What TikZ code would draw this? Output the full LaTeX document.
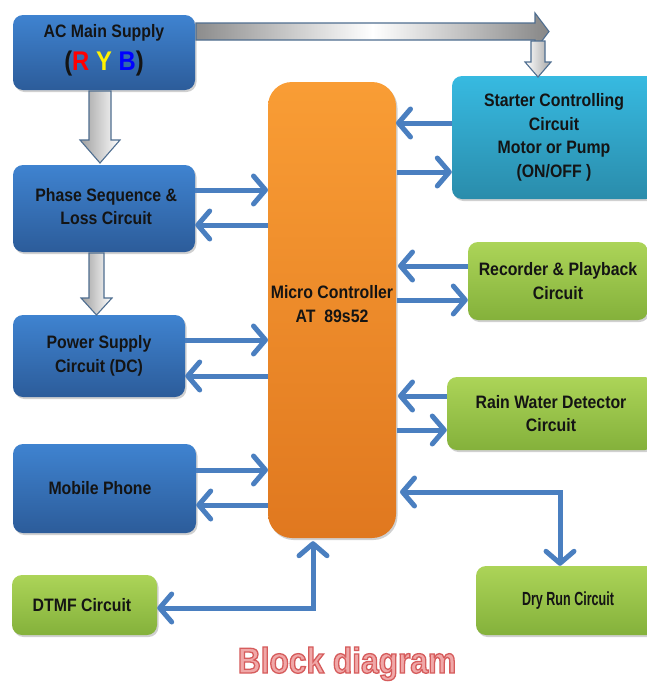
\documentclass[tikz,border=0pt]{standalone}
\usepackage{fontspec}
\setmainfont{Liberation Sans}[FakeStretch=0.88]
\newfontfamily\condfont{Liberation Sans}[FakeStretch=0.66]
\usetikzlibrary{arrows.meta,shadows,calc}
\definecolor{blueT}{HTML}{3F83D0}
\definecolor{blueB}{HTML}{2C5C9A}
\definecolor{orT}{HTML}{F99D35}
\definecolor{orB}{HTML}{E0781F}
\definecolor{cyT}{HTML}{37BAE1}
\definecolor{cyB}{HTML}{2A8CAB}
\definecolor{grT}{HTML}{ACD458}
\definecolor{grB}{HTML}{84B13B}
\definecolor{arrowblue}{HTML}{4A7FC0}
\definecolor{blkborder}{HTML}{4F6E90}
\definecolor{txtc}{HTML}{141414}
\definecolor{bdpink}{HTML}{F0A8A8}
\newcommand{\outlinetext}[1]{\special{pdf:literal direct 2 Tr 1.3 w 0.84 0.36 0.36 RG}#1\special{pdf:literal direct 0 Tr}}
\begin{document}
\begin{tikzpicture}[x=1pt,y=-1pt,
  box/.style={rounded corners=10pt, inner sep=0pt, align=center, text=txtc,
    font=\bfseries\fontsize{18}{23.5}\selectfont,
    drop shadow={shadow xshift=1.5pt, shadow yshift=-2pt, opacity=0.3, fill=black!60}},
  bluebox/.style={box, top color=blueT, bottom color=blueB},
  orbox/.style={box, top color=orT, bottom color=orB, rounded corners=24pt},
  cybox/.style={box, top color=cyT, bottom color=cyB},
  grbox/.style={box, top color=grT, bottom color=grB},
  conn/.style={draw=arrowblue, line width=5pt},
  tipb/.tip={Straight Barb[length=12pt,width=28pt,round]},
  blockarrow/.style={draw=blkborder, line width=1.1pt, line join=miter}
]
\useasboundingbox (0,0) rectangle (646,683);
\fill[white] (0,0) rectangle (646,683);

% boxes
\node[bluebox, minimum width=182pt, minimum height=75pt] (ac) at (104,52.5)
  {AC Main Supply\\[9pt]{\fontsize{27}{28}\selectfont(\textcolor{red}{R}\hspace{0.25em}\textcolor{yellow}{Y}\hspace{0.25em}\textcolor{blue}{B})}\\[-13pt]};
\node[bluebox, minimum width=182pt, minimum height=87pt] (phase) at (104,208.5)
  {\ Phase Sequence \&\\ \ Loss Circuit\\[-19pt]};
\node[bluebox, minimum width=172pt, minimum height=82pt] (power) at (99,356)
  {Power Supply\\Circuit (DC)};
\node[bluebox, minimum width=183pt, minimum height=89pt] (mobile) at (104.5,488.5)
  {Mobile Phone\hspace{9pt}};
\node[grbox, minimum width=145pt, minimum height=60pt] (dtmf) at (84.5,605)
  {DTMF Circuit\hspace{5pt}};
\node[orbox, minimum width=128pt, minimum height=456pt] (mc) at (332,310)
  {Micro Controller\\AT\ \ 89s52\\[-11.5pt]};
\node[cybox, minimum width=204pt, minimum height=123pt] (starter) at (554,137.5)
  {Starter Controlling\\Circuit\\Motor or Pump\\(ON/OFF )};
\node[grbox, minimum width=180pt, minimum height=78pt] (rec) at (558,281)
  {Recorder \& Playback\\Circuit};
\node[grbox, minimum width=208pt, minimum height=73pt] (rain) at (551,413.5)
  {Rain Water Detector\\Circuit};
\node[grbox, minimum width=184pt, minimum height=69pt, font=\condfont\bfseries\fontsize{19}{20}\selectfont] (dry) at (568,600.5)
  {Dry Run Circuit};

% block arrows (hollow, shaded)
\path[blockarrow, left color=gray!75, right color=white]
  (89,91) -- (111,91) -- (111,140) -- (120,140) -- (100,163) -- (80,140) -- (89,140) -- cycle;
\path[blockarrow, left color=gray!75, right color=white]
  (89,253) -- (104,253) -- (104,298) -- (112,298) -- (96.5,315) -- (81,298) -- (89,298) -- cycle;
\path[blockarrow, left color=gray!90, right color=gray!95, middle color=white]
  (196,23) -- (535,23) -- (535,13) -- (549,31.5) -- (535,50) -- (535,40) -- (196,40) -- cycle;
\path[blockarrow, left color=white, right color=gray!70]
  (531,41) -- (545,41) -- (545,62) -- (551,62) -- (538,77) -- (525,62) -- (531,62) -- cycle;

% connector end points on the micro controller
\coordinate (pi) at (268,190);
\coordinate (po) at (268,225);
\coordinate (wi) at (268,340);
\coordinate (wo) at (268,376);
\coordinate (mi) at (268,470);
\coordinate (mo) at (268,505);
\coordinate (si) at (396,123);
\coordinate (so) at (397,172);
\coordinate (ri) at (398,266);
\coordinate (ro) at (397,300);
\coordinate (ni) at (398,396);
\coordinate (no) at (397,430);
\coordinate (dri) at (400,492);
\coordinate (drc) at (560,492);
\coordinate (dtc) at (313,608);

% left side
\draw[conn,-tipb] (phase.east |- pi) -- (pi);
\draw[conn,-tipb] (po) -- (phase.east |- po);
\draw[conn,-tipb] (power.east |- wi) -- (wi);
\draw[conn,-tipb] (wo) -- (power.east |- wo);
\draw[conn,-tipb] (mobile.east |- mi) -- (mi);
\draw[conn,-tipb] (mo) -- (mobile.east |- mo);
% right side
\draw[conn,-tipb] (starter.west |- si) -- (si);
\draw[conn,-tipb] (so) -- (starter.west |- so);
\draw[conn,-tipb] (rec.west |- ri) -- (ri);
\draw[conn,-tipb] (ro) -- (rec.west |- ro);
\draw[conn,-tipb] (rain.west |- ni) -- (ni);
\draw[conn,-tipb] (no) -- (rain.west |- no);
% bottom
\draw[conn,tipb-tipb] (dri) -- (drc) -- (drc |- dry.north);
\draw[conn,tipb-tipb] ([yshift=-3pt]mc.south -| dtc) -- (dtc) -- (dtmf.east |- dtc);

% title
\node[anchor=base, text=bdpink, font=\bfseries\fontsize{36}{40}\selectfont] (title) at (347,673) {\outlinetext{Block diagram}};
\end{tikzpicture}
\end{document}
